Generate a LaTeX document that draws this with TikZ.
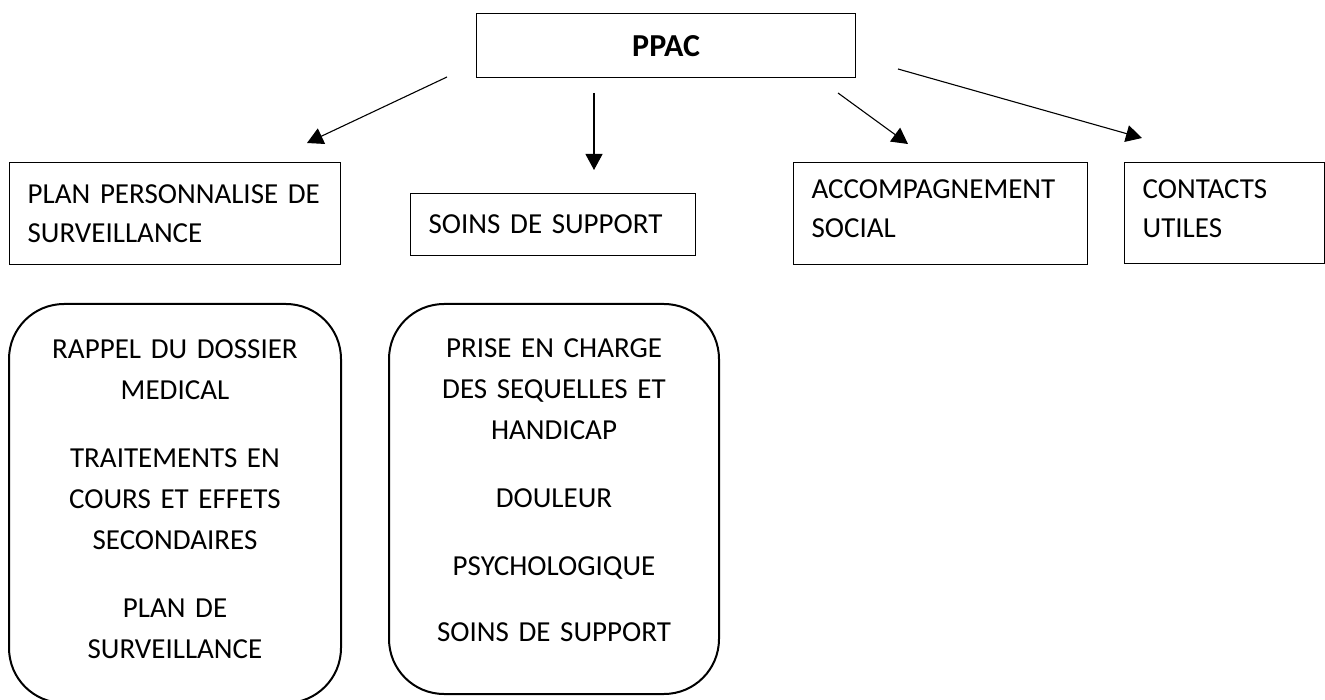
\documentclass[tikz,border=0pt]{standalone}
\usepackage{fontspec}
\setmainfont{Carlito}
\usetikzlibrary{arrows.meta,positioning}

\begin{document}
\begin{tikzpicture}[x=1pt,y=-1pt,>={Triangle[length=16pt,width=17pt]}]
\tikzstyle{box}=[rectangle,draw=black,line width=1.3pt,anchor=north west,
inner ysep=0pt,inner xsep=18pt,align=left,
font=\fontsize{29}{39}\selectfont]
\tikzstyle{bloc}=[rectangle,rounded corners=55pt,draw=black,line width=2pt,
anchor=north west,inner sep=0pt,align=center,
font=\fontsize{29}{41}\selectfont]
\useasboundingbox (0,0) rectangle (1325,700);

\node[box,text width=343pt,minimum height=64pt,align=center,font=\fontsize{32}{39}\selectfont] at (476,13) (ppac) {\textbf{PPAC}};
\node[box,text width=295pt,minimum height=102pt] at (9,162) (pps) {PLAN PERSONNALISE DE\\SURVEILLANCE};
\node[box,text width=249pt,minimum height=62pt] at (410,193) (soins) {SOINS DE SUPPORT};
\node[box,text width=258pt,minimum height=102pt] at (793,162) (social) {ACCOMPAGNEMENT\\SOCIAL\\[-29pt]\mbox{}};
\node[box,text width=164pt,minimum height=101pt] at (1124,162) (contacts) {CONTACTS\\UTILES\\[-29pt]\mbox{}};

\node[bloc,text width=332pt,minimum height=399pt] at (8,303) (rappel) {RAPPEL DU DOSSIER\\MEDICAL\\[27pt]
TRAITEMENTS EN\\COURS ET EFFETS\\SECONDAIRES\\[27pt]PLAN DE\\SURVEILLANCE\\[-32pt]\mbox{}};
\node[bloc,text width=330pt,minimum height=390pt] at (388,303) (prise) {PRISE EN CHARGE\\DES SEQUELLES ET\\HANDICAP\\[27pt]
DOULEUR\\[27pt]PSYCHOLOGIQUE\\[25pt]SOINS DE SUPPORT\\[-23pt]\mbox{}};

\coordinate (1s) at (447,77);
\coordinate (1e) at (307,143);
\coordinate (2s) at (594,93);
\coordinate (2e) at (594,170);
\coordinate (3s) at (838,93);
\coordinate (3e) at (908,144);
\coordinate (4s) at (898,69);
\coordinate (4e) at (1142,138);

\path[->,line width=1.1pt] (1s) edge (1e) ;
\path[->,line width=1.1pt] (2s) edge (2e) ;
\path[->,line width=1.1pt] (3s) edge (3e) ;
\path[->,line width=1.1pt] (4s) edge (4e) ;

\end{tikzpicture}
\end{document}
